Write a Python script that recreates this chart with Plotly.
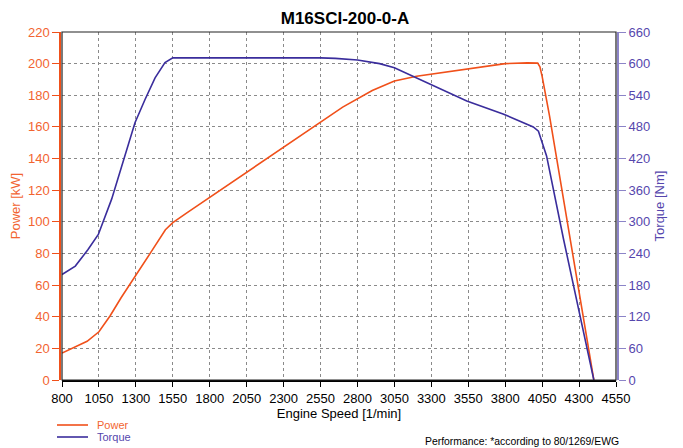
import plotly.graph_objects as go

# ---- data ----
rpm_power = [800, 890, 970, 1050, 1125, 1200, 1300, 1400, 1500, 1550, 1650, 1800,
             2050, 2300, 2550, 2700, 2900, 3050, 3200, 3500, 3800, 3950, 4020,
             4035, 4050, 4100, 4200, 4300, 4400]
power_kw = [17, 21, 24.5, 30.5, 40.5, 52, 66, 80.5, 95, 99.5, 106, 115.5,
            131.5, 147, 163, 172.5, 183, 189, 192, 196, 200, 200.5, 200.3,
            198, 192, 167, 111, 55.5, 0]

rpm_torque = [800, 890, 975, 1046, 1136, 1215, 1294, 1362, 1430, 1497, 1550,
              2550, 2650, 2800, 2950, 3050, 3180, 3540, 3790, 3990, 4025, 4080,
              4195, 4400]
torque_nm = [200, 216, 247, 276, 343, 418, 488, 532, 573, 602, 611,
             611, 610, 607, 600, 592, 575, 529, 504, 480, 472, 425,
             267, 0]

x_ticks = list(range(800, 4551, 250))
power_ticks = list(range(0, 221, 20))
torque_ticks = list(range(0, 661, 60))

series_names = ["Power", "Torque"]
title_text = "M16SCI-200-0-A"
note_text = "Performance: *according to 80/1269/EWG"

ORANGE = "#f0501a"
ORANGE_TXT = "#f26430"
PURPLE = "#3a2d9c"
PURPLE_TXT = "#5546ad"
PURPLE_AX = "#8c84c8"
FONT = "Liberation Sans, Arial, sans-serif"

# the page has an 8px body margin, so the figure is drawn 8px in from the window edge
OFF = 8
W, H = 683 - OFF, 448 - OFF

fig = go.Figure()
fig.add_trace(go.Scatter(
    x=rpm_power, y=power_kw, mode="lines", name=series_names[0],
    line=dict(color=ORANGE, width=1.6), yaxis="y", showlegend=False))
fig.add_trace(go.Scatter(
    x=rpm_torque, y=torque_nm, mode="lines", name=series_names[1],
    line=dict(color=PURPLE, width=1.6), yaxis="y2", showlegend=False))

# screen-pixel layout of the reference
SCR_PAPER_L, SCR_PAPER_R, SCR_TOP, SCR_BOT = 60, 618, 32, 380
L = SCR_PAPER_L - OFF
T = SCR_TOP - OFF
R = W - (SCR_PAPER_R - OFF)
B = H - (SCR_BOT - OFF)
pw = W - L - R
ph = H - T - B
inset = 2 / pw


def px_x(sx):
    return (sx - OFF - L) / pw


def px_y(sy):
    return (H - B - (sy - OFF)) / ph


fig.update_layout(
    width=W, height=H,
    margin=dict(l=L, r=R, t=T, b=B, autoexpand=False),
    paper_bgcolor="white", plot_bgcolor="white",
    font=dict(family=FONT, size=13, color="black"),
    title=dict(text=f"<b>{title_text}</b>", x=(345 - OFF) / W, xref="container",
               y=1 - (18 - OFF) / H, yref="container", xanchor="center", yanchor="middle",
               font=dict(size=17, color="black", family=FONT)),
    xaxis=dict(
        domain=[inset, 1 - inset], range=[800, 4550], automargin=False,
        tickmode="array", tickvals=x_ticks, ticktext=[str(v) for v in x_ticks],
        showline=True, linecolor="black", linewidth=2,
        ticks="outside", ticklen=5, tickcolor="black",
        showgrid=True, gridcolor="#8a8a8a", griddash="dot", gridwidth=1,
        zeroline=False,
        title=dict(text="Engine Speed [1/min]", standoff=0, font=dict(size=13)),
        tickfont=dict(size=13, color="black"),
    ),
    yaxis=dict(
        range=[0, 220], tickmode="array", tickvals=power_ticks, automargin=False,
        anchor="free", position=0,
        showline=True, linecolor=ORANGE, linewidth=1.5,
        ticks="outside", ticklen=7, tickcolor=ORANGE,
        showgrid=True, gridcolor="#8a8a8a", griddash="dot", gridwidth=1,
        zeroline=False,
        tickfont=dict(size=13, color=ORANGE_TXT),
        title=dict(text="Power [kW]", standoff=3, font=dict(size=13, color=ORANGE_TXT)),
    ),
    yaxis2=dict(
        range=[0, 660], tickmode="array", tickvals=torque_ticks, automargin=False,
        overlaying="y", side="right", anchor="free", position=1,
        showline=True, linecolor=PURPLE_AX, linewidth=2,
        ticks="outside", ticklen=7, tickcolor=PURPLE_AX,
        showgrid=False, zeroline=False,
        tickfont=dict(size=13, color=PURPLE_TXT),
        title=dict(text="Torque [Nm]", standoff=5, font=dict(size=13, color=PURPLE_TXT)),
    ),
    showlegend=False,
)

# plot frame
fig.add_shape(type="rect", xref="x domain", yref="y domain", x0=0, x1=1, y0=0, y1=1,
              line=dict(color="#222222", width=1.2), layer="above")

# manual legend (keys below the plot)
legend_rows = [(series_names[0], ORANGE, ORANGE_TXT, 425),
               (series_names[1], PURPLE, PURPLE_TXT, 437)]
for name, lc, tc, ypx in legend_rows:
    fig.add_shape(type="line", xref="paper", yref="paper",
                  x0=px_x(57), x1=px_x(88), y0=px_y(ypx), y1=px_y(ypx),
                  line=dict(color=lc, width=1.6))
    fig.add_annotation(text=name, xref="paper", yref="paper",
                       x=px_x(95), y=px_y(ypx), xanchor="left", yanchor="middle",
                       showarrow=False, font=dict(size=11, color=tc, family=FONT))

fig.add_annotation(text=note_text, xref="paper", yref="paper",
                   x=px_x(621), y=px_y(441), xanchor="right", yanchor="middle",
                   showarrow=False, font=dict(size=10.4, color="black", family=FONT))

fig.write_html("out.html")
